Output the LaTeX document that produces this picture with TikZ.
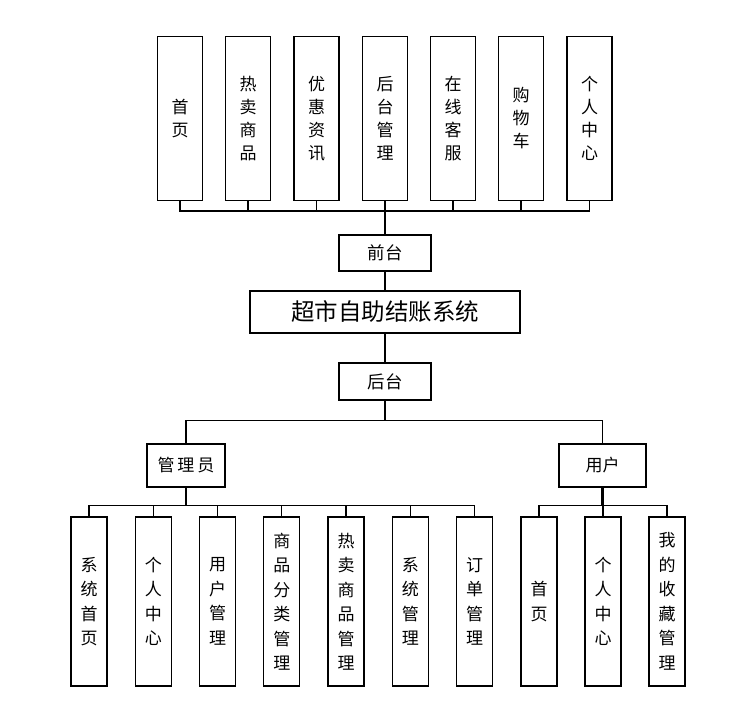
\documentclass[tikz,border=0pt]{standalone}
\usepackage{fontspec}
\setmainfont{Noto Sans CJK SC}

\begin{document}
\begin{tikzpicture}[x=1pt,y=-1pt]
\tikzstyle{every node}=[font=\fontsize{17}{23}\selectfont]
\tikzstyle{topbox}=[draw,line width=1.2pt,fill=white,minimum width=45pt,minimum height=164pt,align=center,inner sep=0pt]
\tikzstyle{subbox}=[draw,line width=1.2pt,fill=white,minimum width=36pt,minimum height=169pt,align=center,inner sep=0pt,font=\fontsize{17}{24.5}\selectfont]
\tikzstyle{midbox}=[draw,line width=1.2pt,fill=white,inner sep=0pt]
\tikzstyle{link}=[line width=1.2pt]
\tikzstyle{trunk}=[line width=2.2pt]

\useasboundingbox (0,0) rectangle (731,719);

% front end
\path (180,118.5) node[topbox] (f1) {首\\页};
\path (248,118.5) node[topbox] (f2) {热\\卖\\商\\品};
\path (316.5,118.5) node[topbox] (f3) {优\\惠\\资\\讯};
\path (385,118.5) node[topbox] (f4) {后\\台\\管\\理};
\path (453,118.5) node[topbox] (f5) {在\\线\\客\\服};
\path (521,118.5) node[topbox] (f6) {购\\物\\车};
\path (589.5,118.5) node[topbox] (f7) {个\\人\\中\\心};

\path (385,253) node[midbox,minimum width=92pt,minimum height=36pt,font=\fontsize{17.5}{20}\selectfont] (qt) {前台};
\path (385,312) node[midbox,minimum width=270pt,minimum height=42pt,font=\fontsize{23.5}{26}\selectfont] (sys) {超市自助结账系统};
\path (385,381.5) node[midbox,minimum width=92pt,minimum height=37pt,font=\fontsize{17.5}{20}\selectfont] (ht) {后台};

\draw[link] (f1.south) -- ++(0,10) coordinate (fb) -| (f7.south);
\foreach \Box in {f2,f3,f4,f5,f6}{
    \draw[link] (\Box.south) -- (\Box.south |- fb);
}
\draw[trunk] (qt.north) -- (qt.north |- fb);
\draw[link] (qt.south) -- (sys.north);
\draw[link] (sys.south) -- (ht.north);

% back end
\path (186,465.5) node[midbox,minimum width=78pt,minimum height=43pt,font=\fontsize{17}{20}\selectfont] (gly) {管\,理\,员};
\path (602.5,465.5) node[midbox,minimum width=87pt,minimum height=43pt,font=\fontsize{17}{20}\selectfont] (yh) {用户};

\draw[link] (ht.south) -- ++(0,20) coordinate (hb);
\draw[link] (gly.north) -- (gly.north |- hb) -| (yh.north);

\path (89,601.5) node[subbox] (a1) {系\\统\\首\\页};
\path (153.25,601.5) node[subbox] (a2) {个\\人\\中\\心};
\path (217.5,601.5) node[subbox] (a3) {用\\户\\管\\理};
\path (281.75,601.5) node[subbox] (a4) {商\\品\\分\\类\\管\\理};
\path (346,601.5) node[subbox] (a5) {热\\卖\\商\\品\\管\\理};
\path (410.25,601.5) node[subbox] (a6) {系\\统\\管\\理};
\path (474.5,601.5) node[subbox] (a7) {订\\单\\管\\理};

\path (539,601.5) node[subbox] (u1) {首\\页};
\path (603,601.5) node[subbox] (u2) {个\\人\\中\\心};
\path (667,601.5) node[subbox] (u3) {我\\的\\收\\藏\\管\\理};

\draw[link] (a1.north) -- ++(0,-11) coordinate (ab) -| (a7.north);
\foreach \Box in {a2,a3,a4,a5,a6}{
    \draw[link] (\Box.north) -- (\Box.north |- ab);
}
\draw[trunk] (gly.south) -- (gly.south |- ab);

\draw[link] (u1.north) -- ++(0,-11) coordinate (ub) -| (u3.north);
\draw[trunk] (yh.south) -- (yh.south |- ub);
\draw[link] (u2.north) -- (u2.north |- ub);
\end{tikzpicture}
\end{document}
